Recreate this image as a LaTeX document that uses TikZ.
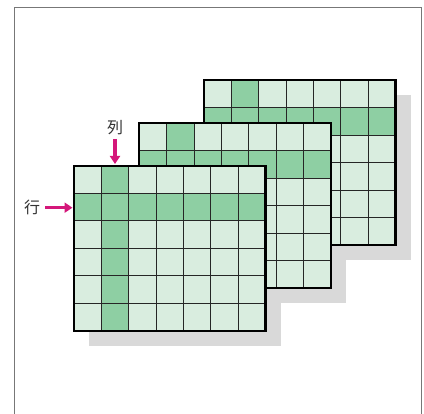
\documentclass[tikz,border=0pt]{standalone}
\usepackage{fontspec}
\newfontfamily\cjk{Noto Sans CJK JP}
\usetikzlibrary{arrows.meta}
\definecolor{cellfill}{HTML}{D9EDDF}
\definecolor{hlfill}{HTML}{8ECFA3}
\definecolor{shadowgray}{HTML}{D9D9D9}
\definecolor{framegray}{HTML}{777777}
\definecolor{arrowmag}{HTML}{D4177A}
\tikzset{
  gridline/.style={draw=black!85, line width=0.9pt},
  frameline/.style={draw=black, line width=2.2pt, line join=miter},
  pointer/.style={draw=arrowmag, line width=3.6pt, -{Triangle[width=10pt,length=8pt]}},
  lbl/.style={font=\cjk\fontsize{16}{16}\selectfont, text=black!80, inner sep=0pt},
  shadowbox/.pic={\fill[shadowgray] (15,15) rectangle (206.5,180);},
  matgrid/.pic={
    \fill[cellfill] (0,0) rectangle (191.5,165);
    \fill[hlfill] (27.357,0) rectangle (54.714,165);
    \fill[hlfill] (0,27.5) rectangle (191.5,55);
    \foreach \i in {1,...,6} \draw[gridline] ({\i*191.5/7},0) -- ++(0,165);
    \foreach \j in {1,...,5} \draw[gridline] (0,{\j*27.5}) -- ++(191.5,0);
    \draw[frameline] (0,0) rectangle (191.5,165);
  }
}
\begin{document}
\begin{tikzpicture}[x=1pt,y=-1pt]
\useasboundingbox (0,0) rectangle (424,414);
\draw[framegray, line width=1pt] (14.5,414) -- (14.5,7.5) -- (421.5,7.5) -- (421.5,414);
% shadows
\pic at (204,80) {shadowbox};
\pic at (139.3,123) {shadowbox};
\pic at (74,165.7) {shadowbox};
% grids back to front
\pic at (204,80) {matgrid};
\pic at (139.3,123) {matgrid};
\pic at (74,165.7) {matgrid};
% labels and pointers
\node[lbl] (col) at (115,127.5) {列};
\node[lbl] (row) at (32,207) {行};
\coordinate (colstart) at (115,139);
\coordinate (colend) at (115,164);
\coordinate (rowstart) at (45,207.7);
\coordinate (rowend) at (72.5,207.7);
\draw[pointer] (colstart) -- (colend);
\draw[pointer] (rowstart) -- (rowend);
\end{tikzpicture}
\end{document}
